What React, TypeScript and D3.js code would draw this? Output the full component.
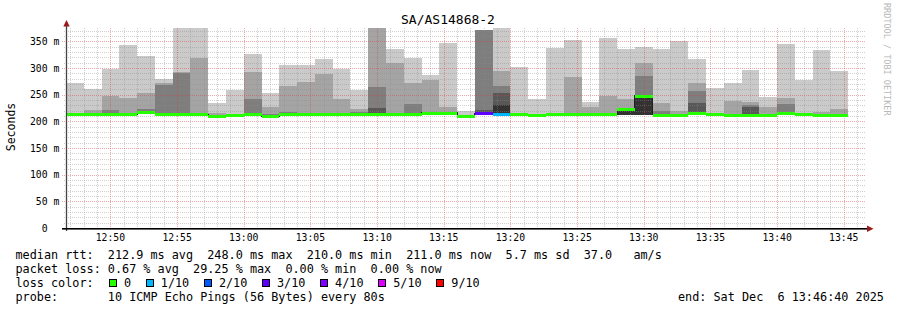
import React from 'react';
import * as d3 from 'd3';

const W = 897;
const H = 310;
const TITLE = 'SA/AS14868-2';
const Y_LABEL = 'Seconds';
const WATERMARK = 'RRDTOOL / TOBI OETIKER';
const START = Date.UTC(2025, 11, 6, 12, 46, 40);
const END = Date.UTC(2025, 11, 6, 13, 46, 40);
const STEP_MS = 80 * 1000;

// sorted ping rtts (ms) per 80 s step: highest (p10) .. 6th (p6), lowest pings (low), median, lost pings of 10
const p10 = [272,261,299,344,323,280,380,380,234,259,326,254,306,306,317,298,259,380,336,319,286,347,220,371,380,302,242,337,352,236,356,336,339,336,351,316,263,271,296,245,345,277,334,294];
const p9  = [215,222,247,243,253,271,293,319,216,214,292,227,266,273,289,242,223,378,309,272,277,226,212,371,294,215,214,214,283,227,247,242,309,234,219,272,214,239,236,226,244,214,218,223];
const p8  = [214,214,222,215,224,269,291,214,212,213,242,213,217,216,214,214,217,264,214,232,217,217,211,371,266,214,213,213,214,214,214,224,285,219,213,257,213,213,231,213,232,213,213,214];
const p7  = [213,213,215,214,216,216,215,213,211,213,214,211,216,215,213,213,216,225,213,216,216,216,210,222,253,213,212,213,213,213,213,223,249,213,212,234,213,213,226,213,216,213,213,213];
const p6  = [213,213,214,213,216,214,214,213,210,212,213,210,214,214,213,213,214,216,213,214,216,216,210,217,230,213,212,213,213,213,213,223,248,213,212,218,213,213,214,213,215,213,213,213];
const low = [212,212,212,212,215,213,212,212,209,211,212,209,212,212,212,212,212,213,212,212,215,215,209,214,213,212,211,212,212,212,212,212,212,211,211,214,213,211,211,211,214,212,211,211];
const median = [213,213,213,213,217,214,213,213,210,212,213,210,213,213,213,213,213,214,213,213,216,216,210,215,214,213,212,213,213,213,213,224,248,212,212,215,214,212,212,212,215,213,212,212];
const lostPings = [0,0,0,0,0,0,0,0,0,0,0,0,0,0,0,0,0,0,0,0,0,0,0,3,1,0,0,0,0,0,0,0,0,0,0,0,0,0,0,0,0,0,0,0];

const Y_TICKS = [0, 50, 100, 150, 200, 250, 300, 350];
const Y_TICK_LABELS = ['  0', ' 50 m', '100 m', '150 m', '200 m', '250 m', '300 m', '350 m'];

const LOSS_THRESHOLDS = [0, 1, 2, 3, 4, 5, 9];
const LOSS_LABELS = ['0', '1/10', '2/10', '3/10', '4/10', '5/10', '9/10'];
const LOSS_COLORS = ['#26ff00', '#00b8ff', '#0059ff', '#5e00ff', '#7e00ff', '#dd00ff', '#ff0000'];

const SMOKE_COLORS = ['#cacaca', '#a4a4a4', '#7e7e7e', '#585858', '#323232'];

const LEGEND_LINE1 = 'median rtt:  212.9 ms avg  248.0 ms max  210.0 ms min  211.0 ms now  5.7 ms sd  37.0   am/s';
const LEGEND_LINE2 = 'packet loss: 0.67 % avg  29.25 % max  0.00 % min  0.00 % now';
const LEGEND_LINE3 = 'loss color:';
const LEGEND_LINE4 = 'probe:       10 ICMP Echo Pings (56 Bytes) every 80s';
const END_TEXT = 'end: Sat Dec  6 13:46:40 2025';

const MONO = "'DejaVu Sans Mono', monospace";

function lossColor(n: number) {
  let idx = 0;
  LOSS_THRESHOLDS.forEach((t, i) => { if (n >= t) idx = i; });
  return LOSS_COLORS[idx];
}

export default function App() {
  const x = d3.scaleUtc().domain([new Date(START), new Date(END)]).range([66, 866]);
  const y = d3.scaleLinear().domain([0, 375]).range([228, 28]);
  const tops = [p10, p9, p8, p7, p6];

  const bars = median.map((m, i) => {
    const t0 = new Date(START + i * STEP_MS);
    const t1 = new Date(START + (i + 1) * STEP_MS);
    return { i, x0: x(t0), x1: x(t1), m };
  });

  const minorY = d3.range(10, 375, 10).filter((v) => v % 50 !== 0);
  const majorY = d3.range(50, 375, 50);
  const minutes = d3.utcMinute.range(new Date(START), new Date(END));
  const minorX = minutes.filter((d) => d.getUTCMinutes() % 5 !== 0);
  const majorX = minutes.filter((d) => d.getUTCMinutes() % 5 === 0);
  const fmt = d3.utcFormat('%H:%M');

  const pts: [number, number][] = bars.map((b) => [b.x0, y(b.m)]);
  const last = bars[bars.length - 1];
  pts.push([last.x1, y(last.m)]);
  const stepPath = d3.line().curve(d3.curveStepAfter)(pts) || '';

  const charW = 7.1;
  const legendItems: { bx: number; lx: number; label: string; color: string }[] = [];
  let bx = 109;
  LOSS_LABELS.forEach((label, i) => {
    const lx = bx + 15;
    legendItems.push({ bx, lx, label, color: LOSS_COLORS[i] });
    bx = lx + label.length * charW + 14.7;
  });

  const base = 259;
  const lh = 13.9;

  return (
    <svg width={W} height={H} viewBox={`0 0 ${W} ${H}`} style={{ position: 'absolute', left: 0, top: 0, background: '#fff' }}>
      <defs>
        <clipPath id="plot">
          <rect x={66} y={28} width={800} height={200} />
        </clipPath>
      </defs>
      <rect x={0} y={0} width={W} height={H} fill="#fff" />

      <g clipPath="url(#plot)" shapeRendering="crispEdges">
        {bars.map((b) =>
          tops.map((arr, k) => {
            const yt = y(arr[b.i]);
            const yb = y(low[b.i]);
            return (
              <rect key={`${b.i}-${k}`} x={b.x0} y={yt} width={b.x1 - b.x0} height={Math.max(0, yb - yt)} fill={SMOKE_COLORS[k]} />
            );
          })
        )}
      </g>

      <g fill="none" strokeWidth={1} strokeDasharray="1,1" shapeRendering="crispEdges">
        {minorY.map((v) => {
          const yy = Math.round(y(v)) + 0.5;
          return <line key={`my${v}`} x1={64} x2={866} y1={yy} y2={yy} stroke="rgba(140,140,140,0.4)" />;
        })}
        {minorX.map((d) => {
          const xx = Math.round(x(d)) + 0.5;
          return <line key={`mx${+d}`} x1={xx} x2={xx} y1={28} y2={228} stroke="rgba(140,140,140,0.4)" />;
        })}
        {majorY.map((v) => {
          const yy = Math.round(y(v)) + 0.5;
          return <line key={`My${v}`} x1={62} x2={866} y1={yy} y2={yy} stroke="rgba(220,60,60,0.45)" />;
        })}
        {majorX.map((d) => {
          const xx = Math.round(x(d)) + 0.5;
          return <line key={`Mx${+d}`} x1={xx} x2={xx} y1={28} y2={230} stroke="rgba(220,60,60,0.45)" />;
        })}
      </g>

      <g clipPath="url(#plot)">
        <path d={stepPath} fill="none" stroke="#202020" strokeWidth={1} shapeRendering="crispEdges" />
        {bars.map((b) => (
          <rect key={`m${b.i}`} x={b.x0} y={Math.round(y(b.m)) - 1} width={b.x1 - b.x0} height={3} fill={lossColor(lostPings[b.i])} shapeRendering="crispEdges" />
        ))}
      </g>

      {/* axes */}
      <line x1={66.5} x2={66.5} y1={26} y2={231} stroke="#444" strokeWidth={1.3} />
      <rect x={62} y={228} width={806} height={1.6} fill="#000" />
      <polygon points="66.5,20 63.3,26.5 69.7,26.5" fill="#9b1b1b" />
      <polygon points="873.5,228.8 867,225.6 867,232" fill="#9b1b1b" />

      {/* tick labels */}
      <g fontFamily={MONO} fontSize={9.75} fill="#000" style={{ whiteSpace: 'pre' }}>
        {Y_TICKS.map((v, i) => (
          <text key={`yl${v}`} x={30} y={y(v) + 3.5} xmlSpace="preserve">{Y_TICK_LABELS[i]}</text>
        ))}
        {majorX.map((d) => (
          <text key={`xl${+d}`} x={x(d)} y={241} textAnchor="middle">{fmt(d)}</text>
        ))}
      </g>

      <text x={448} y={24} textAnchor="middle" fontFamily={MONO} fontSize={13} fill="#000">{TITLE}</text>
      <text transform="translate(14.5,127) rotate(-90)" textAnchor="middle" fontFamily={MONO} fontSize={11.5} fill="#000">{Y_LABEL}</text>
      <text transform="translate(884,3) rotate(90)" fontFamily={MONO} fontSize={8.5} fill="#b8b8b8">{WATERMARK}</text>

      <g fontFamily={MONO} fontSize={11.8} fill="#000" style={{ whiteSpace: 'pre' }}>
        <text x={15.5} y={base} xmlSpace="preserve">{LEGEND_LINE1}</text>
        <text x={15.5} y={base + lh} xmlSpace="preserve">{LEGEND_LINE2}</text>
        <text x={15.5} y={base + 2 * lh} xmlSpace="preserve">{LEGEND_LINE3}</text>
        {legendItems.map((it) => (
          <g key={it.label}>
            <rect x={Math.round(it.bx) + 0.5} y={279.5} width={6.5} height={6.5} fill={it.color} stroke="#000" strokeWidth={1} shapeRendering="crispEdges" />
            <text x={it.lx} y={base + 2 * lh}>{it.label}</text>
          </g>
        ))}
        <text x={15.5} y={base + 3 * lh} xmlSpace="preserve">{LEGEND_LINE4}</text>
        <text x={678} y={base + 3 * lh} xmlSpace="preserve">{END_TEXT}</text>
      </g>
    </svg>
  );
}
